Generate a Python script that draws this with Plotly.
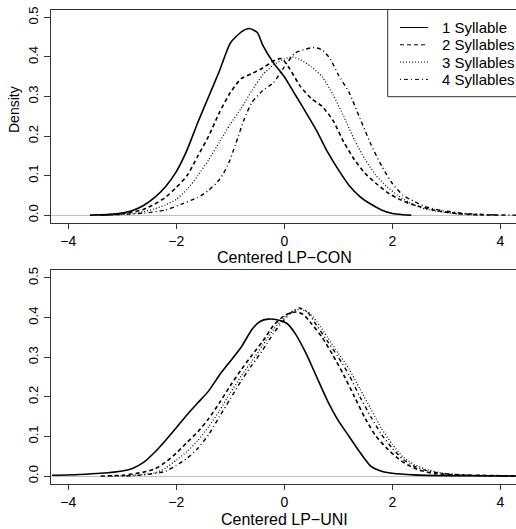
import plotly.graph_objects as go

# top panel: Centered LP-CON densities
con1_x = [-3.6, -3.2, -3.0, -2.8, -2.6, -2.4, -2.2, -2.0, -1.8, -1.6, -1.4, -1.2, -1.0, -0.8, -0.65, -0.5, -0.4, -0.2, 0.0, 0.2, 0.4, 0.6, 0.8, 1.0, 1.2, 1.4, 1.6, 1.8, 2.0, 2.2, 2.35]
con1_y = [0.0, 0.002, 0.005, 0.012, 0.025, 0.045, 0.072, 0.11, 0.165, 0.235, 0.3, 0.365, 0.435, 0.463, 0.472, 0.462, 0.43, 0.385, 0.35, 0.305, 0.26, 0.213, 0.16, 0.115, 0.075, 0.047, 0.028, 0.013, 0.004, 0.001, 0.0]

con2_x = [-3.4, -3.0, -2.8, -2.6, -2.4, -2.2, -2.0, -1.8, -1.6, -1.4, -1.2, -1.0, -0.8, -0.6, -0.4, -0.2, -0.05, 0.1, 0.3, 0.5, 0.7, 0.9, 1.1, 1.3, 1.5, 1.7, 1.9, 2.1, 2.3, 2.5, 2.8, 3.2, 3.6, 4.0]
con2_y = [0.0, 0.004, 0.008, 0.015, 0.028, 0.045, 0.07, 0.1, 0.15, 0.2, 0.26, 0.31, 0.345, 0.358, 0.372, 0.39, 0.396, 0.37, 0.325, 0.295, 0.275, 0.24, 0.185, 0.14, 0.105, 0.08, 0.058, 0.042, 0.03, 0.022, 0.012, 0.004, 0.001, 0.0]

con3_x = [-3.2, -2.8, -2.6, -2.4, -2.2, -2.0, -1.8, -1.6, -1.4, -1.2, -1.0, -0.8, -0.6, -0.4, -0.2, 0.0, 0.15, 0.3, 0.5, 0.7, 0.9, 1.1, 1.3, 1.5, 1.7, 1.9, 2.1, 2.3, 2.5, 2.8, 3.2, 3.6]
con3_y = [0.0, 0.004, 0.009, 0.016, 0.026, 0.04, 0.065, 0.1, 0.14, 0.185, 0.23, 0.27, 0.315, 0.355, 0.38, 0.395, 0.4, 0.393, 0.375, 0.35, 0.305, 0.25, 0.19, 0.14, 0.1, 0.072, 0.05, 0.033, 0.02, 0.01, 0.003, 0.0]

con4_x = [-3.4, -3.0, -2.6, -2.2, -1.9, -1.6, -1.4, -1.2, -1.05, -0.9, -0.75, -0.6, -0.4, -0.2, 0.0, 0.2, 0.4, 0.55, 0.7, 0.85, 1.0, 1.2, 1.4, 1.6, 1.8, 2.0, 2.2, 2.4, 2.6, 2.9, 3.3, 3.8, 4.3]
con4_y = [0.0, 0.002, 0.005, 0.013, 0.028, 0.045, 0.063, 0.09, 0.125, 0.18, 0.24, 0.285, 0.315, 0.335, 0.375, 0.41, 0.42, 0.424, 0.418, 0.395, 0.355, 0.31, 0.245, 0.18, 0.125, 0.08, 0.05, 0.035, 0.022, 0.012, 0.005, 0.001, 0.0]

# bottom panel: Centered LP-UNI densities
uni1_x = [-4.3, -3.8, -3.4, -3.0, -2.8, -2.6, -2.4, -2.2, -2.0, -1.8, -1.6, -1.4, -1.2, -1.0, -0.8, -0.6, -0.45, -0.3, -0.1, 0.05, 0.2, 0.4, 0.6, 0.8, 1.0, 1.2, 1.4, 1.6, 1.8, 2.0, 2.4, 3.0, 4.3]
uni1_y = [0.002, 0.004, 0.007, 0.013, 0.02, 0.035, 0.06, 0.09, 0.122, 0.155, 0.185, 0.215, 0.255, 0.29, 0.325, 0.37, 0.39, 0.396, 0.393, 0.385, 0.36, 0.31, 0.25, 0.19, 0.14, 0.1, 0.06, 0.025, 0.012, 0.007, 0.003, 0.001, 0.0]

uni2_x = [-3.4, -3.0, -2.6, -2.4, -2.2, -2.0, -1.8, -1.6, -1.4, -1.2, -1.0, -0.8, -0.6, -0.4, -0.2, 0.0, 0.2, 0.35, 0.5, 0.7, 0.9, 1.1, 1.3, 1.5, 1.7, 1.9, 2.1, 2.3, 2.5, 2.8, 3.2, 4.0, 4.3]
uni2_y = [0.0, 0.002, 0.01, 0.018, 0.035, 0.058, 0.085, 0.112, 0.145, 0.185, 0.228, 0.268, 0.305, 0.34, 0.38, 0.405, 0.414, 0.408, 0.385, 0.35, 0.305, 0.255, 0.2, 0.145, 0.1, 0.07, 0.045, 0.027, 0.015, 0.006, 0.003, 0.001, 0.0]

uni3_x = [-3.2, -2.8, -2.4, -2.2, -2.0, -1.8, -1.6, -1.4, -1.2, -1.0, -0.8, -0.6, -0.4, -0.2, 0.0, 0.15, 0.3, 0.45, 0.6, 0.8, 1.0, 1.2, 1.4, 1.6, 1.8, 2.0, 2.2, 2.4, 2.6, 2.9, 3.3, 4.3]
uni3_y = [0.0, 0.002, 0.008, 0.02, 0.04, 0.062, 0.09, 0.125, 0.165, 0.21, 0.252, 0.29, 0.33, 0.37, 0.4, 0.416, 0.421, 0.413, 0.39, 0.35, 0.31, 0.27, 0.22, 0.17, 0.12, 0.08, 0.048, 0.03, 0.018, 0.008, 0.003, 0.0]

uni4_x = [-3.0, -2.6, -2.2, -2.0, -1.8, -1.6, -1.4, -1.2, -1.0, -0.8, -0.6, -0.4, -0.2, 0.0, 0.15, 0.28, 0.42, 0.6, 0.8, 1.0, 1.2, 1.4, 1.6, 1.8, 2.0, 2.2, 2.4, 2.6, 2.9, 3.4, 4.3]
uni4_y = [0.0, 0.003, 0.012, 0.027, 0.045, 0.07, 0.105, 0.15, 0.195, 0.24, 0.28, 0.318, 0.36, 0.395, 0.415, 0.424, 0.415, 0.38, 0.34, 0.3, 0.255, 0.2, 0.15, 0.105, 0.07, 0.042, 0.025, 0.015, 0.007, 0.002, 0.0]

names = ["1 Syllable", "2 Syllables", "3 Syllables", "4 Syllables"]
dashes = ["solid", "4px,3px", "1px,2px", "1px,3px,4px,3px"]
widths = [1.6, 1.6, 1.2, 1.4]

x_ticks = [-4, -2, 0, 2, 4]
y_ticks = [0.0, 0.1, 0.2, 0.3, 0.4, 0.5]

FONT = "Liberation Sans, Arial, sans-serif"
INK = "#333333"
W, H, LEFT = 516, 529, 51


def px(x):
  # pixel column -> paper x
  return (x - LEFT) / (W - LEFT)


def py(y):
  # pixel row -> paper y
  return 1 - y / H


def plot_density():
  con = [(con1_x, con1_y), (con2_x, con2_y), (con3_x, con3_y), (con4_x, con4_y)]
  uni = [(uni1_x, uni1_y), (uni2_x, uni2_y), (uni3_x, uni3_y), (uni4_x, uni4_y)]

  data = []
  for i, (xs, ys) in enumerate(con):
    data.append(go.Scatter(x=xs, y=ys, mode="lines", name=names[i], showlegend=False,
                           line=dict(color="black", dash=dashes[i], width=widths[i], shape="spline", smoothing=0.6),
                           xaxis="x", yaxis="y"))
  for i, (xs, ys) in enumerate(uni):
    data.append(go.Scatter(x=xs, y=ys, mode="lines", name=names[i], showlegend=False,
                           line=dict(color="black", dash=dashes[i], width=widths[i], shape="spline", smoothing=0.6),
                           xaxis="x2", yaxis="y2"))

  def xax(anchor):
    return dict(domain=[0, 1], anchor=anchor, range=[-4.32, 4.29],
                tickvals=x_ticks, ticks="outside", ticklen=5, tickcolor=INK,
                showline=True, linecolor=INK, linewidth=1, mirror=True,
                showgrid=False, zeroline=False, automargin=False,
                tickfont=dict(size=14, color="black"))

  def yax(domain, anchor):
    return dict(domain=domain, anchor=anchor, range=[-0.02, 0.52],
                tickvals=y_ticks, tickformat=".1f", tickangle=-90,
                ticks="outside", ticklen=6, tickcolor=INK,
                showline=True, linecolor=INK, linewidth=1,
                showgrid=False, zeroline=True, zerolinecolor="#c0c0c0", zerolinewidth=1,
                automargin=False, ticklabelstandoff=1,
                tickfont=dict(size=13, color="black"))

  # axis titles
  annotations = [
    dict(text="Centered LP\u2212CON", x=px(284.3), y=py(267), xref="paper", yref="paper",
         xanchor="center", yanchor="bottom", showarrow=False, borderpad=0, font=dict(size=16)),
    dict(text="Centered LP\u2212UNI", x=px(284.3), y=0, xref="paper", yref="paper",
         xanchor="center", yanchor="bottom", showarrow=False, borderpad=0, font=dict(size=16)),
    dict(text="Density", x=px(14), y=py(110), xref="paper", yref="paper", textangle=-90,
         xanchor="center", yanchor="middle", showarrow=False, font=dict(size=14)),
  ]

  # legend box drawn by hand so the row spacing matches the R legend
  shapes = [dict(type="rect", xref="paper", yref="paper", x0=px(387.7), x1=px(530),
                 y0=py(96.7), y1=py(9.5), line=dict(color=INK, width=1), fillcolor="white", layer="above")]
  for i, name in enumerate(names):
    row = 27.5 + 17.3 * i
    shapes.append(dict(type="line", xref="paper", yref="paper", x0=px(400), x1=px(428),
                       y0=py(row), y1=py(row), layer="above",
                       line=dict(color="black", dash=dashes[i], width=1)))
    annotations.append(dict(text=name, x=px(440), y=py(row), xref="paper", yref="paper",
                            xanchor="left", yanchor="middle", showarrow=False, font=dict(size=15)))

  layout = go.Layout(
    width=W, height=H,
    margin=dict(l=LEFT, r=0, t=0, b=0),
    paper_bgcolor="white", plot_bgcolor="white",
    font=dict(family=FONT, color="black"),
    xaxis=xax("y"),
    yaxis=yax([0.5784, 0.982], "x"),
    xaxis2=xax("y2"),
    yaxis2=yax([py(484), py(270)], "x2"),
    showlegend=False,
    annotations=annotations,
    shapes=shapes,
  )

  fig = go.Figure(data=data, layout=layout)
  fig.write_html("out.html", config={"displayModeBar": False},
                 post_script="document.body.style.margin='0';")


if __name__ == "__main__":
  plot_density()
